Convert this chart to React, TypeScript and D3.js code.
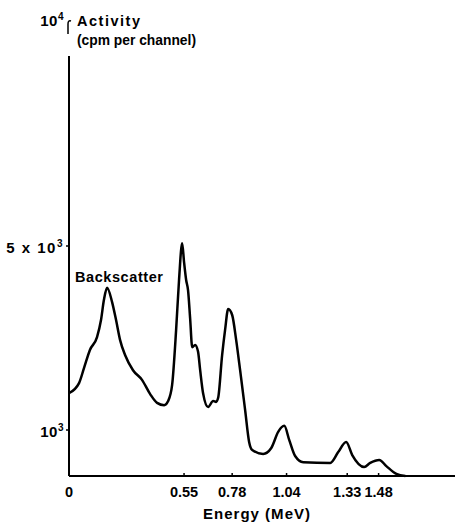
import React from "react";
import * as d3 from "d3";

// energy (MeV) and activity (cpm per channel)
const energy = [
  0, 0.048, 0.072, 0.1, 0.134, 0.153, 0.167, 0.182, 0.206, 0.225, 0.244, 0.268,
  0.306, 0.349, 0.388, 0.421, 0.455, 0.474, 0.493, 0.512, 0.526, 0.541, 0.55,
  0.56, 0.569, 0.579, 0.589, 0.603, 0.617, 0.627, 0.641, 0.665, 0.689, 0.703,
  0.713, 0.732, 0.746, 0.761, 0.78, 0.799, 0.818, 0.842, 0.861, 0.876, 0.928,
  0.967, 1.0, 1.029, 1.053, 1.081, 1.12, 1.249, 1.287, 1.325, 1.354, 1.411,
  1.44, 1.483, 1.517, 1.565, 1.608,
];
const activity = [
  1800, 2020, 2350, 2740, 3020, 3390, 3830, 4090, 3780, 3390, 2960, 2630,
  2300, 2090, 1780, 1590, 1540, 1630, 1980, 3170, 4260, 5060, 4650,
  4260, 4040, 3430, 2800, 2850, 2700, 2300, 1800, 1500, 1630, 1610,
  1700, 2630, 3170, 3630, 3500, 2960, 2300, 1430, 740, 565, 480,
  610, 960, 1090, 780, 435, 300, 285, 520, 740, 455, 195,
  285, 350, 215, 45, 0,
];

const xTicks = [0, 0.55, 0.78, 1.04, 1.33, 1.48];
const xTickLabels = ["0", "0.55", "0.78", "1.04", "1.33", "1.48"];
const yTicks = [1000, 5000, 10000];
const yTickLabels = [["10", "3"], ["5 x 10", "3"], ["10", "4"]];

const W = 457;
const H = 523;
const font = "'Liberation Sans', Arial, sans-serif";

export default function App() {
  const x = d3.scaleLinear().domain([0, 1.85]).range([69, 456]);
  const y = d3.scaleLinear().domain([0, 10000]).range([476, 16]);

  const pts = energy.map((e, i) => [e, activity[i]] as [number, number]);
  const line = d3
    .line<[number, number]>()
    .x((d) => x(d[0]))
    .y((d) => y(d[1]))
    .curve(d3.curveMonotoneX);

  return (
    <svg
      width={W}
      height={H}
      style={{ position: "absolute", left: 0, top: 0, background: "#fff" }}
      fontFamily={font}
      fontWeight="bold"
    >
      {/* axes */}
      <line x1={x(0)} x2={x(0)} y1={56} y2={y(0)} stroke="#000" strokeWidth={2} />
      <path
        d={`M${x(0) + 2},${y(10000) + 5} q-3,-1 -3,3 L${x(0) - 1},${y(10000) + 18}`}
        fill="none"
        stroke="#000"
        strokeWidth={1.5}
      />
      <line x1={x(0)} x2={455} y1={y(0)} y2={y(0)} stroke="#000" strokeWidth={2} />

      {yTicks.slice(0, 2).map((t) => (
        <line key={t} x1={x(0) - 3} x2={x(0)} y1={y(t)} y2={y(t)} stroke="#000" strokeWidth={1.5} />
      ))}
      {xTicks.slice(1).map((t) => (
        <line key={t} x1={x(t)} x2={x(t)} y1={y(0) - 3} y2={y(0)} stroke="#000" strokeWidth={1.5} />
      ))}

      {/* y tick labels */}
      {yTicks.map((t, i) => (
        <text
          key={t}
          x={x(0) - 5}
          y={y(t) + (i === 2 ? 10 : 7)}
          textAnchor="end"
          fontSize={15}
          letterSpacing={i === 1 ? 1.5 : 0.5}
        >
          {yTickLabels[i][0]}
          <tspan fontSize={10} dy={-6}>
            {yTickLabels[i][1]}
          </tspan>
        </text>
      ))}

      {/* x tick labels */}
      {xTicks.map((t, i) => (
        <text key={t} x={x(t)} y={497} textAnchor="middle" fontSize={14.5}>
          {xTickLabels[i]}
        </text>
      ))}

      {/* titles */}
      <text x={77} y={26} fontSize={14.5} textLength={63} lengthAdjust="spacing">Activity</text>
      <text x={77} y={45} fontSize={14.5} textLength={119} lengthAdjust="spacingAndGlyphs">(cpm per channel)</text>
      <text x={75} y={282} fontSize={14.5} textLength={88} lengthAdjust="spacing">Backscatter</text>
      <text x={203} y={519} fontSize={15} textLength={107} lengthAdjust="spacing">Energy (MeV)</text>

      {/* spectrum */}
      <path d={line(pts) ?? ""} fill="none" stroke="#000" strokeWidth={2.5} strokeLinejoin="round" />
    </svg>
  );
}
